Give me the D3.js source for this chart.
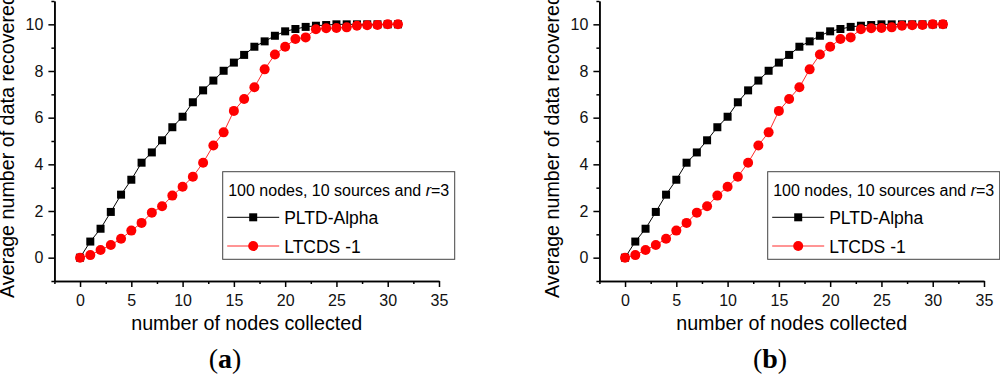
<!DOCTYPE html>
<html>
<head>
<meta charset="utf-8">
<script src="https://cdn.jsdelivr.net/npm/d3@7"></script>
<style>
  body { margin: 0; background: #fff; }
  svg { display: block; font-family: "Liberation Sans", Arial, sans-serif; }
  .axis path, .axis line { stroke: #000; stroke-width: 1.5; }
  .axis text { font-size: 16px; fill: #111; font-family: "Liberation Sans", Arial, sans-serif; }
</style>
</head>
<body>
<svg id="chart" width="1000" height="378"></svg>
<script>
// number of nodes collected
const nodesCollected = [0, 1, 2, 3, 4, 5, 6, 7, 8, 9, 10, 11, 12, 13, 14, 15,
  16, 17, 18, 19, 20, 21, 22, 23, 24, 25, 26, 27, 28, 29, 30, 31];

// average number of data recovered
const pltdAlpha = [0, 0.69, 1.24, 1.96, 2.70, 3.34, 4.07, 4.51, 5.03, 5.59, 6.04,
  6.66, 7.17, 7.59, 8.01, 8.36, 8.69, 9.04, 9.27, 9.51, 9.70, 9.80, 9.89, 9.94,
  9.97, 10.0, 10.0, 10.0, 10.0, 10.0, 10.0, 10.0];
const ltcds1 = [0, 0.11, 0.33, 0.54, 0.81, 1.16, 1.49, 1.93, 2.20, 2.66, 3.04,
  3.47, 4.07, 4.81, 5.37, 6.29, 6.80, 7.30, 8.07, 8.71, 9.04, 9.37, 9.44, 9.79,
  9.83, 9.84, 9.87, 9.94, 9.96, 9.97, 10.0, 10.0];

const xMajorTicks = [0, 5, 10, 15, 20, 25, 30, 35];
const xMinorTicks = [-2.5, 2.5, 7.5, 12.5, 17.5, 22.5, 27.5, 32.5];
const yMajorTicks = [0, 2, 4, 6, 8, 10];
const yMinorTicks = [-1, 1, 3, 5, 7, 9, 11];

const panelLabels = ["a", "b"];
const legendTitle = "100 nodes, 10 sources and ";
const seriesNames = ["PLTD-Alpha", "LTCDS -1"];

const svg = d3.select("#chart");

const x = d3.scaleLinear().domain([-2.5, 35]).range([54.4, 439]);
const y = d3.scaleLinear().domain([-1, 11]).range([281, 1]);

function drawPanel(offset, label) {
  const g = svg.append("g").attr("transform", `translate(${offset},0)`);

  // axes
  g.append("g").attr("class", "axis")
    .attr("transform", "translate(0," + y(-1) + ")")
    .call(d3.axisBottom(x).tickValues(xMinorTicks).tickSize(3).tickSizeOuter(0).tickFormat(""));
  g.append("g").attr("class", "axis")
    .attr("transform", "translate(0," + y(-1) + ")")
    .call(d3.axisBottom(x).tickValues(xMajorTicks).tickSize(6).tickSizeOuter(0).tickPadding(8));

  g.append("g").attr("class", "axis")
    .attr("transform", "translate(" + x(-2.5) + ",0)")
    .call(d3.axisLeft(y).tickValues(yMinorTicks).tickSize(3).tickSizeOuter(0).tickFormat(""));
  g.append("g").attr("class", "axis")
    .attr("transform", "translate(" + x(-2.5) + ",0)")
    .call(d3.axisLeft(y).tickValues(yMajorTicks).tickSize(6).tickSizeOuter(0).tickPadding(5));

  // axis titles
  g.append("text")
    .attr("x", (x(-2.5) + x(35)) / 2)
    .attr("y", 330)
    .attr("text-anchor", "middle")
    .style("font-size", "19.7px")
    .text("number of nodes collected");

  g.append("text")
    .attr("transform", "translate(14,146) rotate(-90)")
    .attr("text-anchor", "middle")
    .style("font-size", "19.7px")
    .text("Average number of data recovered");

  // lines + markers
  const line = d3.line()
    .x((d, i) => x(nodesCollected[i]))
    .y(d => y(d));

  g.append("path")
    .datum(pltdAlpha)
    .attr("d", line)
    .attr("fill", "none")
    .attr("stroke", "#000")
    .attr("stroke-width", 1);

  g.selectAll("rect.pltd")
    .data(pltdAlpha)
    .enter()
    .append("rect")
    .attr("class", "pltd")
    .attr("x", (d, i) => x(nodesCollected[i]) - 4)
    .attr("y", d => y(d) - 4)
    .attr("width", 8)
    .attr("height", 8)
    .attr("fill", "#000");

  g.append("path")
    .datum(ltcds1)
    .attr("d", line)
    .attr("fill", "none")
    .attr("stroke", "#ff2a2a")
    .attr("stroke-width", 1);

  g.selectAll("circle.ltcds")
    .data(ltcds1)
    .enter()
    .append("circle")
    .attr("class", "ltcds")
    .attr("cx", (d, i) => x(nodesCollected[i]))
    .attr("cy", d => y(d))
    .attr("r", 5)
    .attr("fill", "#ff0000");

  // legend
  const legend = g.append("g").attr("transform", "translate(222.7,171.7)");
  legend.append("rect")
    .attr("width", 232)
    .attr("height", 87.6)
    .attr("fill", "#fff")
    .attr("stroke", "#444")
    .attr("stroke-width", 1);

  const title = legend.append("text")
    .attr("x", 5.5)
    .attr("y", 24.5)
    .style("font-size", "16px");
  title.append("tspan").text(legendTitle);
  title.append("tspan").style("font-style", "italic").text("r");
  title.append("tspan").text("=3");

  legend.append("line")
    .attr("x1", 4.5).attr("x2", 56.5)
    .attr("y1", 45.6).attr("y2", 45.6)
    .attr("stroke", "#000").attr("stroke-width", 1);
  legend.append("rect")
    .attr("x", 30.5 - 4).attr("y", 45.6 - 4)
    .attr("width", 8).attr("height", 8)
    .attr("fill", "#000");
  legend.append("text")
    .attr("x", 61.5).attr("y", 52.5)
    .style("font-size", "17.5px")
    .text(seriesNames[0]);

  legend.append("line")
    .attr("x1", 4.5).attr("x2", 56.5)
    .attr("y1", 74.3).attr("y2", 74.3)
    .attr("stroke", "#ff2a2a").attr("stroke-width", 1);
  legend.append("circle")
    .attr("cx", 30.5).attr("cy", 74.3)
    .attr("r", 5)
    .attr("fill", "#ff0000");
  legend.append("text")
    .attr("x", 61.5).attr("y", 81.5)
    .style("font-size", "17.5px")
    .text(seriesNames[1]);

  // panel label
  const pl = g.append("text")
    .attr("x", 225)
    .attr("y", 368)
    .attr("text-anchor", "middle")
    .style("font-family", "'Liberation Serif', 'Times New Roman', serif")
    .style("font-size", "28px");
  pl.append("tspan").text("(");
  pl.append("tspan").style("font-weight", "bold").text(label);
  pl.append("tspan").text(")");
}

drawPanel(0, panelLabels[0]);
drawPanel(545, panelLabels[1]);
</script>
</body>
</html>
